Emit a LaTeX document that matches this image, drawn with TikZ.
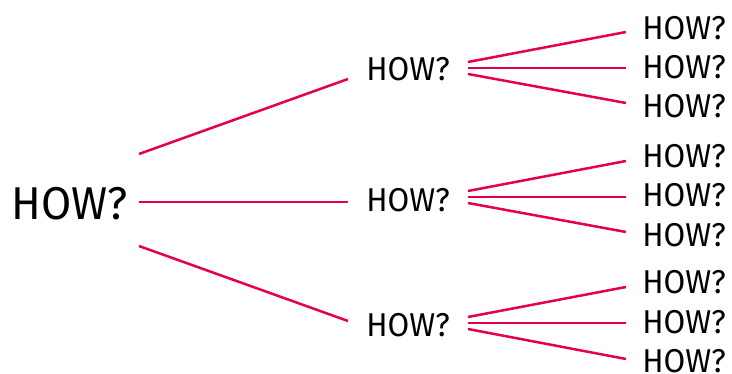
\documentclass[tikz,border=0pt]{standalone}
\usepackage{fontspec}
\setmainfont{Fira Sans}[FakeStretch=0.95]
\usepackage{tikz}
\usetikzlibrary{positioning}
\definecolor{howred}{RGB}{227,0,82}

\begin{document}
\begin{tikzpicture}[x=1pt, y=-1pt,
  howroot/.style={inner sep=0pt, outer sep=0pt, minimum width=138pt,
    font=\fontsize{46}{46}\selectfont, text=black},
  howmid/.style={inner sep=0pt, outer sep=0pt, minimum width=120pt,
    font=\fontsize{33}{33}\selectfont, text=black},
  howleaf/.style={inner sep=0pt, outer sep=0pt, minimum width=116pt,
    font=\fontsize{33}{33}\selectfont, text=black},
  fan/.style={draw=howred, line width=2.5pt}]
\useasboundingbox (0,0) rectangle (732,374);

\node[howroot] (r) at (70,204) {HOW?};

\node[howmid] (m1) at (408,69) {HOW?};
\node[howmid] (m2) at (408,200) {HOW?};
\node[howmid] (m3) at (408,325) {HOW?};

\node[howleaf] (l11) at (684,28) {HOW?};
\node[howleaf] (l12) at (684,67) {HOW?};
\node[howleaf] (l13) at (684,106) {HOW?};
\node[howleaf] (l21) at (684,156) {HOW?};
\node[howleaf] (l22) at (684,195) {HOW?};
\node[howleaf] (l23) at (684,235) {HOW?};
\node[howleaf] (l31) at (684,282) {HOW?};
\node[howleaf] (l32) at (684,322) {HOW?};
\node[howleaf] (l33) at (684,361) {HOW?};

% first level
\draw[fan] ([yshift=50pt]r.east) -- ([yshift=-10pt]m1.west);
\draw[fan] ([yshift=2pt]r.east) -- ([yshift=-2pt]m2.west);
\draw[fan] ([yshift=-42pt]r.east) -- ([yshift=4pt]m3.west);

% second level
\draw[fan] ([yshift=7pt]m1.east) -- ([yshift=-4pt]l11.west);
\draw[fan] ([yshift=1pt]m1.east) -- ([yshift=-1pt]l12.west);
\draw[fan] ([yshift=-5pt]m1.east) -- ([yshift=3pt]l13.west);

\draw[fan] ([yshift=9pt]m2.east) -- ([yshift=-5pt]l21.west);
\draw[fan] ([yshift=3pt]m2.east) -- ([yshift=-2pt]l22.west);
\draw[fan] ([yshift=-3pt]m2.east) -- ([yshift=3pt]l23.west);

\draw[fan] ([yshift=8pt]m3.east) -- ([yshift=-5pt]l31.west);
\draw[fan] ([yshift=2pt]m3.east) -- ([yshift=-1pt]l32.west);
\draw[fan] ([yshift=-4pt]m3.east) -- ([yshift=2pt]l33.west);
\end{tikzpicture}
\end{document}
